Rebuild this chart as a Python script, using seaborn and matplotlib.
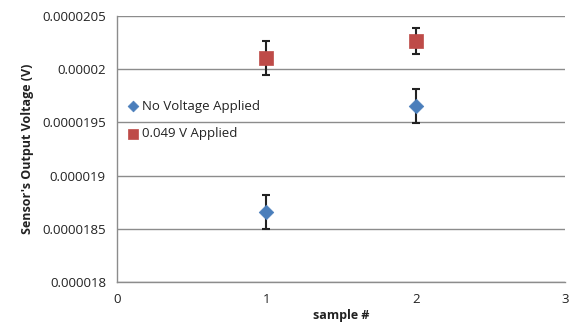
import matplotlib
matplotlib.use("Agg")
import matplotlib.pyplot as plt
import seaborn as sns
import pandas as pd
from matplotlib.ticker import FixedLocator, FixedFormatter

samples = [1, 2]
no_voltage = [1.8660e-5, 1.9655e-5]
no_voltage_err = [1.6e-7, 1.6e-7]
applied = [2.0105e-5, 2.0265e-5]
applied_err = [1.6e-7, 1.2e-7]
series_names = ["No Voltage Applied", "0.049 V Applied"]
y_ticks = [0.000018, 0.0000185, 0.000019, 0.0000195, 0.00002, 0.0000205]
y_labels = ["0.000018", "0.0000185", "0.000019", "0.0000195", "0.00002", "0.0000205"]
x_ticks = [0, 1, 2, 3]

df = pd.DataFrame({
    "sample": samples + samples,
    "value": no_voltage + applied,
    "err": no_voltage_err + applied_err,
    "series": [series_names[0]] * 2 + [series_names[1]] * 2,
})

sns.set_style("white")
plt.rcParams['font.family'] = ['Open Sans', 'DejaVu Sans']

fig = plt.figure(figsize=(5.71, 3.25), dpi=100)
ax = fig.add_axes([0.205, 0.132, 0.785, 0.819])

colors = {series_names[0]: "#4A7EBB", series_names[1]: "#BE4B48"}
markers = {series_names[0]: "D", series_names[1]: "s"}
sizes = {series_names[0]: 55, series_names[1]: 110}
leg_sizes = {series_names[0]: 30, series_names[1]: 60}

for name in series_names:
    sub = df[df["series"] == name]
    ax.errorbar(sub["sample"], sub["value"], yerr=sub["err"], fmt="none",
                ecolor="#222222", elinewidth=1.5, capsize=3, capthick=1.5, zorder=3)

for name in series_names:
    sub = df[df["series"] == name]
    sns.scatterplot(data=sub, x="sample", y="value", color=colors[name],
                    marker=markers[name], s=sizes[name], edgecolor=colors[name],
                    linewidth=0.5, ax=ax, zorder=4, label=name)

ax.set_xlim(0, 3)
ax.set_ylim(0.000018, 0.0000205)
ax.yaxis.set_major_locator(FixedLocator(y_ticks))
ax.yaxis.set_major_formatter(FixedFormatter(y_labels))
ax.set_xticks(x_ticks)
ax.set_xticklabels([str(t) for t in x_ticks])

ax.grid(axis="y", color="#8c8c8c", linewidth=1.0)
ax.set_axisbelow(True)
for s in ["top", "right"]:
    ax.spines[s].set_visible(False)
for s in ["left", "bottom"]:
    ax.spines[s].set_color("#8c8c8c")
    ax.spines[s].set_linewidth(1.0)

ax.tick_params(axis="both", which="major", length=4, color="#8c8c8c",
               labelsize=9.5, labelcolor="#222222", direction="out", pad=4)

ax.set_xlabel("sample #", fontsize=9, fontweight="bold", color="#222222", labelpad=2)
ax.set_ylabel("Sensor's Output Voltage (V)", fontsize=9, fontweight="bold",
              color="#222222", labelpad=6)

leg = ax.legend(loc="upper left", bbox_to_anchor=(0.0, 0.72), frameon=False,
                fontsize=9.5, handletextpad=0.2, handlelength=1.0,
                borderaxespad=0.3, labelspacing=1.1)
for h, name in zip(leg.legend_handles, series_names):
    h.set_sizes([leg_sizes[name]])
for t in leg.get_texts():
    t.set_color("#222222")

fig.savefig("out.png", dpi=100)
